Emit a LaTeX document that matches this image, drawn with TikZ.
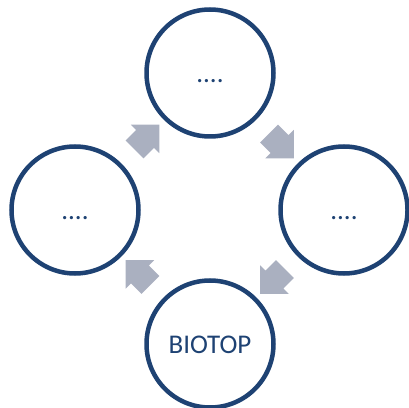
\documentclass[tikz,border=0pt]{standalone}
\usepackage{fontspec}
\setmainfont{Carlito}
\usepackage{xcolor}
\usepackage{tikz}
\usetikzlibrary{shapes.arrows,calc}
\definecolor{ringblue}{RGB}{30,66,115}
\definecolor{flowgray}{RGB}{170,176,192}
\newcommand{\stagefont}{\fontsize{27}{27}\selectfont}

\begin{document}
\begin{tikzpicture}[x=1pt,y=1pt,
    stage/.style={circle,draw=ringblue,line width=4.5pt,minimum size=127pt,inner sep=0pt,
      text=ringblue,font=\stagefont,text height=19pt,text depth=0pt},
    flow/.style={single arrow,fill=flowgray,draw=none,inner xsep=0pt,inner ysep=12.5pt,
      minimum height=35pt,single arrow head extend=7.5pt,single arrow tip angle=90}]
    \useasboundingbox (0,0) rectangle (409,407);
    \node[stage] (top)    at (210,334) {....};
    \node[stage] (left)   at (75,197)  {....};
    \node[stage] (right)  at (344,197) {....};
    \node[stage] (biotop) at (210,63)  {BIOTOP};
    % block arrows between the stages
    \node[flow,rotate=45]   (left-top)     at ($(left)!0.5!(top)$)     {};
    \node[flow,rotate=-45]  (top-right)    at ($(top)!0.5!(right)$)    {};
    \node[flow,rotate=-135] (right-biotop) at ($(right)!0.5!(biotop)$) {};
    \node[flow,rotate=135]  (biotop-left)  at ($(biotop)!0.5!(left)$)  {};
  \end{tikzpicture}
\end{document}
